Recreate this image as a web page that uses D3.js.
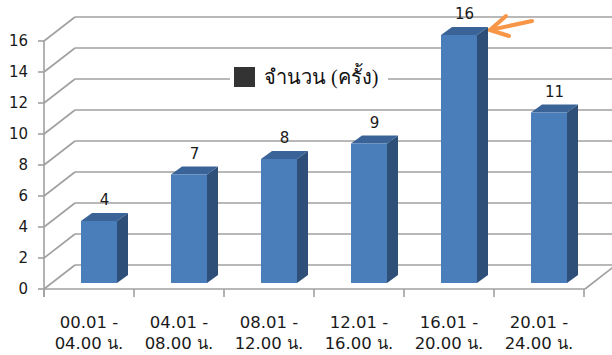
<!DOCTYPE html>
<html><head><meta charset="utf-8">
<script src="https://cdn.jsdelivr.net/npm/d3@7"></script>
<style>html,body{margin:0;padding:0;background:#fff;}svg{display:block;}</style>
</head><body>
<svg id="c" width="612" height="355"></svg>
<script>
const categories = ["00.01 - 04.00 น.", "04.01 - 08.00 น.", "08.01 - 12.00 น.", "12.01 - 16.00 น.", "16.01 - 20.00 น.", "20.01 - 24.00 น."];
const catLine1 = ["00.01 -", "04.01 -", "08.01 -", "12.01 -", "16.01 -", "20.01 -"];
const catLine2 = ["04.00 น.", "08.00 น.", "12.00 น.", "16.00 น.", "20.00 น.", "24.00 น."];
const values = [4, 7, 8, 9, 16, 11];
const yTicks = [0, 2, 4, 6, 8, 10, 12, 14, 16];
const seriesName = "จำนวน (ครั้ง)";

const svg = d3.select("#c");
const DX = 31, DY = -24; // wall depth
const y = d3.scaleLinear().domain([0, 16]).range([289, 41]);
const x = d3.scaleBand().domain(categories).range([44, 584]).paddingInner(0).paddingOuter(0);
const right = 616;
const grid = "#a0a0a0";

// back wall gridlines and left wall diagonals
yTicks.forEach(t => {
  const yf = y(t);
  svg.append("line").attr("x1", 44).attr("y1", yf).attr("x2", 44 + DX).attr("y2", yf + DY)
    .attr("stroke", grid).attr("stroke-width", 1.6);
  svg.append("line").attr("x1", 44 + DX).attr("y1", yf + DY).attr("x2", right).attr("y2", yf + DY)
    .attr("stroke", grid).attr("stroke-width", 1.6);
});
// floor front edge and right edge
svg.append("line").attr("x1", 44).attr("y1", y(0)).attr("x2", 585).attr("y2", y(0)).attr("stroke", grid).attr("stroke-width", 1.6);
svg.append("line").attr("x1", 585).attr("y1", y(0)).attr("x2", 585 + DX).attr("y2", y(0) + DY).attr("stroke", grid).attr("stroke-width", 1.6);
// y axis
svg.append("line").attr("x1", 44).attr("y1", y(16)).attr("x2", 44).attr("y2", y(0) + 8).attr("stroke", grid).attr("stroke-width", 1.6);
yTicks.forEach(t => {
  svg.append("line").attr("x1", 38).attr("y1", y(t)).attr("x2", 44).attr("y2", y(t)).attr("stroke", grid).attr("stroke-width", 1.6);
  svg.append("text").attr("x", 28).attr("y", y(t)).attr("dy", "0.36em").attr("text-anchor", "end")
    .attr("font-family", "DejaVu Sans, Tahoma, sans-serif").attr("font-size", 15).attr("fill", "#1a1a1a").text(t);
});
// x ticks
const edges = categories.map(c => x(c)).concat([x(categories[categories.length - 1]) + x.bandwidth()]);
edges.forEach(e => {
  svg.append("line").attr("x1", e).attr("y1", y(0)).attr("x2", e).attr("y2", y(0) + 8).attr("stroke", grid).attr("stroke-width", 1.6);
});
// x labels
categories.forEach((c, i) => {
  const cx = x(c) + x.bandwidth() / 2;
  const g = svg.append("text").attr("text-anchor", "middle").attr("font-family", "DejaVu Sans, Tahoma, sans-serif")
    .attr("font-size", 16.5).attr("fill", "#1a1a1a");
  g.append("tspan").attr("x", cx).attr("y", 328).text(catLine1[i]);
  g.append("tspan").attr("x", cx).attr("y", 349).text(catLine2[i]);
});

// bars
const bw = x.bandwidth() * 0.4, bdx = 11, bdy = -8, lift = 6, shift = 10;
categories.forEach((c, i) => {
  const v = values[i];
  const cx = x(c) + x.bandwidth() / 2 + shift;
  const x0 = cx - bw / 2, x1 = cx + bw / 2;
  const yt = y(v) - lift, yb = y(0) - lift;
  const g = svg.append("g");
  g.append("path").attr("d", `M${x1},${yt}L${x1 + bdx},${yt + bdy}L${x1 + bdx},${yb + bdy}L${x1},${yb}Z`).attr("fill", "#2e5078");
  g.append("path").attr("d", `M${x0},${yt}L${x0 + bdx},${yt + bdy}L${x1 + bdx},${yt + bdy}L${x1},${yt}Z`).attr("fill", "#3a6497");
  g.append("rect").attr("x", x0).attr("y", yt).attr("width", bw).attr("height", yb - yt).attr("fill", "#4a7ebb");
  svg.append("text").attr("x", cx + bdx / 2).attr("y", yt + bdy - 8).attr("text-anchor", "middle")
    .attr("font-family", "DejaVu Sans, Tahoma, sans-serif").attr("font-size", 15).attr("fill", "#1a1a1a").text(v);
});

// legend
svg.append("rect").attr("x", 230).attr("y", 62).attr("width", 158).attr("height", 30).attr("fill", "#fff");
svg.append("rect").attr("x", 234).attr("y", 67).attr("width", 21).attr("height", 20).attr("fill", "#333");
svg.append("text").attr("x", 264).attr("y", 77).attr("dy", "0.35em").attr("font-family", "Liberation Serif, Times New Roman, serif")
  .attr("font-size", 20).attr("fill", "#111").text(seriesName);

// orange arrow
const ar = svg.append("g").attr("stroke", "#f79646").attr("stroke-width", 4).attr("stroke-linecap", "round").attr("fill", "none");
ar.append("line").attr("x1", 532).attr("y1", 21).attr("x2", 490).attr("y2", 30);
ar.append("line").attr("x1", 490).attr("y1", 30).attr("x2", 506).attr("y2", 16);
ar.append("line").attr("x1", 490).attr("y1", 30).attr("x2", 509).attr("y2", 36);
</script>
</body></html>
